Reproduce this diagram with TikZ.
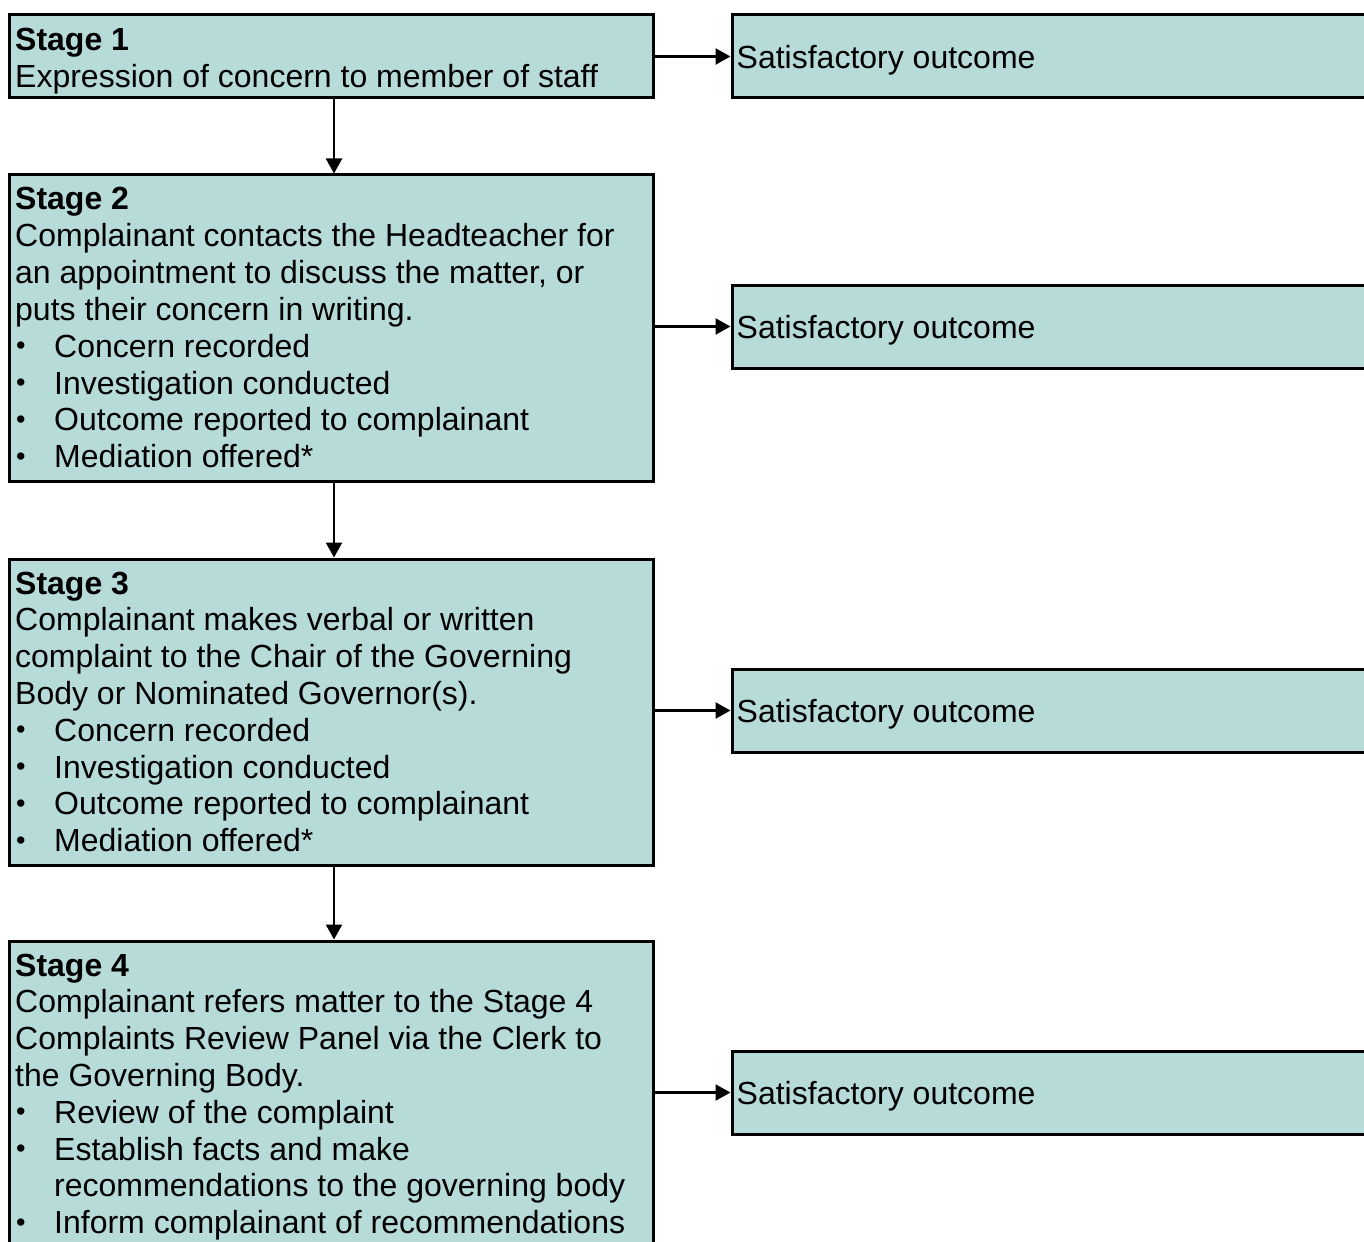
\documentclass[tikz,border=0pt]{standalone}
\usepackage{fontspec}
\setmainfont{Liberation Sans}
\usetikzlibrary{arrows.meta,calc}
\definecolor{boxfill}{RGB}{182,219,216}
\newcommand\bl[1]{\hbox{\makebox[39pt][l]{\hspace{1pt}\raisebox{2.5pt}{\fontsize{27}{27}\selectfont •}}#1}}
\newcommand\cl[1]{\hbox{\hspace{39pt}#1}}
\newcommand\tline[1]{\hbox{#1}}
\begin{document}
\begin{tikzpicture}[x=1pt,y=-1pt,
  box/.style={draw=black, line width=3pt, fill=boxfill, inner sep=0pt},
  txt/.style={inner sep=0pt, anchor=base west, font=\fontsize{32}{36.8}\selectfont},
  conn/.style={line width=2.3pt, -{Triangle[length=15pt,width=16pt]}}]
\useasboundingbox (0,0) rectangle (1364,1241);
\clip (0,0) rectangle (1364,1241);
% stage boxes
\node[box, minimum width=644pt, minimum height=83pt] (s1) at (331,56.5) {};
\node[box, minimum width=644pt, minimum height=306pt] (s2) at (331,328) {};
\node[box, minimum width=644pt, minimum height=306pt] (s3) at (331,712) {};
\node[box, minimum width=644pt, minimum height=359pt] (s4) at (331,1120.5) {};
% outcome boxes
\node[box, minimum width=688pt, minimum height=83pt] (o1) at (1076,56.5) {};
\node[box, minimum width=688pt, minimum height=83pt] (o2) at (1076,326.5) {};
\node[box, minimum width=688pt, minimum height=83pt] (o3) at (1076,710.5) {};
\node[box, minimum width=688pt, minimum height=83pt] (o4) at (1076,1092.5) {};
% texts
\node[txt] (t1) at (15,51) {\vtop{\tline{\bfseries Stage 1}\tline{Expression of concern to member of staff}}};
\node[txt] (t2) at (15,210) {\vtop{\tline{\bfseries Stage 2}
  \tline{Complainant contacts the Headteacher for}
  \tline{an appointment to discuss the matter, or}
  \tline{puts their concern in writing.}
  \bl{Concern recorded}
  \bl{Investigation conducted}
  \bl{Outcome reported to complainant}
  \bl{Mediation offered*}}};
\node[txt] (t3) at (15,594) {\vtop{\tline{\bfseries Stage 3}
  \tline{Complainant makes verbal or written}
  \tline{complaint to the Chair of the Governing}
  \tline{Body or Nominated Governor(s).}
  \bl{Concern recorded}
  \bl{Investigation conducted}
  \bl{Outcome reported to complainant}
  \bl{Mediation offered*}}};
\node[txt] (t4) at (15,976) {\vtop{\tline{\bfseries Stage 4}
  \tline{Complainant refers matter to the Stage 4}
  \tline{Complaints Review Panel via the Clerk to}
  \tline{the Governing Body.}
  \bl{Review of the complaint}
  \bl{Establish facts and make}
  \cl{recommendations to the governing body}
  \bl{Inform complainant of recommendations}}};
\foreach \o in {o1,o2,o3,o4}{
  \node[txt] (\o t) at ($(\o.west)+(6,12)$) {Satisfactory outcome};
}
% connectors
\draw[conn] ([xshift=3pt]s1.south) -- ([xshift=3pt]s2.north);
\draw[conn] ([xshift=3pt]s2.south) -- ([xshift=3pt]s3.north);
\draw[conn] ([xshift=3pt]s3.south) -- ([xshift=3pt]s4.north);
\draw[conn] (s1.east |- o1.west) -- (o1.west);
\draw[conn] (s2.east |- o2.west) -- (o2.west);
\draw[conn] (s3.east |- o3.west) -- (o3.west);
\draw[conn] (s4.east |- o4.west) -- (o4.west);
\end{tikzpicture}
\end{document}
